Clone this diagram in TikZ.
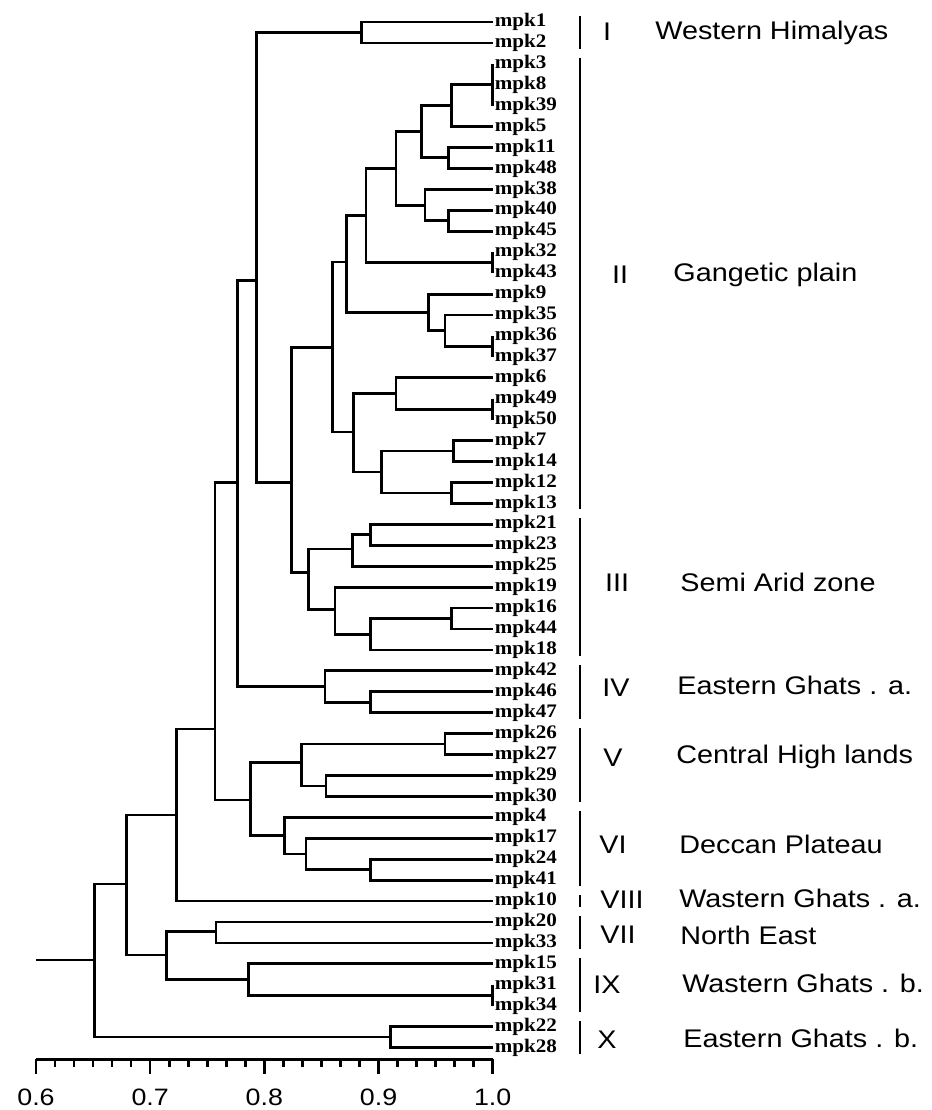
\documentclass[tikz,border=0pt]{standalone}
\usepackage{fontspec}
\usepackage{tikz}
\usetikzlibrary{calc}
\newfontfamily\leaffont[FakeStretch=1.1]{Liberation Serif}
\newfontfamily\zonefont[FakeStretch=1.13]{Liberation Sans}
\tikzstyle{br}=[line width=1.6pt]
\tikzstyle{grp}=[line width=1.4pt]
\tikzstyle{leaf}=[anchor=west, inner sep=1pt, font=\leaffont\bfseries\fontsize{10.9}{11}\selectfont]
\tikzstyle{rom}=[inner sep=0pt, font=\zonefont\fontsize{14.5}{15}\selectfont]
\tikzstyle{zone}=[rom, anchor=west]
\tikzstyle{axis}=[line width=1.7pt]
\tikzstyle{tick}=[line width=1.5pt]
\tikzstyle{ticklabel}=[inner sep=0pt, font=\zonefont\fontsize{13.5}{14}\selectfont]

\begin{document}
\begin{tikzpicture}[x=0.02cm, y=-0.02cm]
    \useasboundingbox (0,0) rectangle (932,1110);

    \foreach \n [count=\i from 0] in {1,2,3,8,39,5,11,48,38,40,45,32,43,9,35,36,37,6,49,50,7,14,12,13,21,23,25,19,16,44,18,42,46,47,26,27,29,30,4,17,24,41,10,20,33,15,31,34,22,28}{
        \node[leaf] (mpk\n) at (492.7, 22+20.93*\i) {mpk\n};
    }

    % joins
    \coordinate (n12) at (361.7, 32.5);
    \coordinate (a2) at (451.7, 105.8);
    \coordinate (a3) at (448.3, 157.3);
    \coordinate (a4) at (421.7, 131.7);
    \coordinate (a5) at (448.3, 220.8);
    \coordinate (a6) at (425, 205.1);
    \coordinate (a7) at (396, 168.4);
    \coordinate (a9) at (366, 215.5);
    \coordinate (a11) at (445, 330.7);
    \coordinate (a12) at (428.3, 312.4);
    \coordinate (a13) at (346.3, 262);
    \coordinate (a15) at (396, 393.5);
    \coordinate (a16) at (453.3, 451);
    \coordinate (a17) at (451.7, 493);
    \coordinate (a18) at (381.7, 472);
    \coordinate (a19) at (353.3, 432);
    \coordinate (a20) at (332.7, 347.3);
    \coordinate (b1) at (370.7, 534.8);
    \coordinate (b2) at (352.7, 549);
    \coordinate (b3) at (451.7, 618.5);
    \coordinate (b4) at (370.7, 634.2);
    \coordinate (b5) at (335, 609.5);
    \coordinate (b6) at (308.3, 572.7);
    \coordinate (c1) at (291.7, 482.7);
    \coordinate (c2) at (256.7, 280.7);
    \coordinate (d1) at (370.7, 702.2);
    \coordinate (d2) at (325, 686.5);
    \coordinate (c3) at (237.3, 482.7);
    \coordinate (f1) at (445, 744);
    \coordinate (f2) at (326, 786);
    \coordinate (f3) at (301.7, 762.7);
    \coordinate (g1) at (370.7, 869.7);
    \coordinate (g2) at (306, 854);
    \coordinate (g3) at (284.3, 835.7);
    \coordinate (h1) at (250.7, 800);
    \coordinate (c4) at (215, 729);
    \coordinate (c5) at (176.7, 815);
    \coordinate (k1) at (216, 931.5);
    \coordinate (k3) at (248.3, 979.5);
    \coordinate (k4) at (166.7, 955);
    \coordinate (c6) at (126.7, 884);
    \coordinate (m1) at (390.7, 1037);
    \coordinate (root) at (94.3, 960);
    \coordinate (stem) at (36, 960);

    \coordinate (a1) at (mpk8.west);
    \coordinate (a8) at ($(mpk32.west)!.5!(mpk43.west)$);
    \coordinate (a10) at ($(mpk36.west)!.5!(mpk37.west)$);
    \coordinate (a14) at ($(mpk49.west)!.5!(mpk50.west)$);
    \coordinate (k2) at ($(mpk31.west)!.5!(mpk34.west)$);
    \foreach \s/\e in {3/39, 32/43, 36/37, 49/50, 31/34}{
        \draw[br] (mpk\s.west) -- (mpk\e.west);
    }

    \draw[br] (mpk1.west) -| (n12) |- (mpk2.west);
    \draw[br] (a1) -| (a2) |- (mpk5.west);
    \draw[br] (mpk11.west) -| (a3) |- (mpk48.west);
    \draw[br] (a2) -| (a4) |- (a3);
    \draw[br] (mpk40.west) -| (a5) |- (mpk45.west);
    \draw[br] (mpk38.west) -| (a6) |- (a5);
    \draw[br] (a4) -| (a7) |- (a6);
    \draw[br] (a7) -| (a9) |- (a8);
    \draw[br] (mpk35.west) -| (a11) |- (a10);
    \draw[br] (mpk9.west) -| (a12) |- (a11);
    \draw[br] (a9) -| (a13) |- (a12);
    \draw[br] (mpk6.west) -| (a15) |- (a14);
    \draw[br] (mpk7.west) -| (a16) |- (mpk14.west);
    \draw[br] (mpk12.west) -| (a17) |- (mpk13.west);
    \draw[br] (a16) -| (a18) |- (a17);
    \draw[br] (a15) -| (a19) |- (a18);
    \draw[br] (a13) -| (a20) |- (a19);

    \draw[br] (mpk21.west) -| (b1) |- (mpk23.west);
    \draw[br] (b1) -| (b2) |- (mpk25.west);
    \draw[br] (mpk16.west) -| (b3) |- (mpk44.west);
    \draw[br] (b3) -| (b4) |- (mpk18.west);
    \draw[br] (mpk19.west) -| (b5) |- (b4);
    \draw[br] (b2) -| (b6) |- (b5);
    \draw[br] (a20) -| (c1) |- (b6);
    \draw[br] (n12) -| (c2) |- (c1);

    \draw[br] (mpk46.west) -| (d1) |- (mpk47.west);
    \draw[br] (mpk42.west) -| (d2) |- (d1);
    \draw[br] (c2) -| (c3) |- (d2);

    \draw[br] (mpk26.west) -| (f1) |- (mpk27.west);
    \draw[br] (mpk29.west) -| (f2) |- (mpk30.west);
    \draw[br] (f1) -| (f3) |- (f2);
    \draw[br] (mpk24.west) -| (g1) |- (mpk41.west);
    \draw[br] (mpk17.west) -| (g2) |- (g1);
    \draw[br] (mpk4.west) -| (g3) |- (g2);
    \draw[br] (f3) -| (h1) |- (g3);
    \draw[br] (c3) -| (c4) |- (h1);
    \draw[br] (c4) -| (c5) |- (mpk10.west);

    \draw[br] (mpk20.west) -| (k1) |- (mpk33.west);
    \draw[br] (mpk15.west) -| (k3) |- (k2);
    \draw[br] (k1) -| (k4) |- (k3);
    \draw[br] (c5) -| (c6) |- (k4);

    \draw[br] (mpk22.west) -| (m1) |- (mpk28.west);
    \draw[br] (c6) -| (root) |- (m1);
    \draw[br] (stem) -- (root);

    % groups
    \coordinate (gx) at (580,0);
    \foreach \s/\e in {1/2, 3/13, 21/18, 42/47, 26/30, 4/41, 10/10, 20/33, 15/34, 22/28}{
        \draw[grp] ($(mpk\s.west -| gx)+(0,-6)$) -- ($(mpk\e.west -| gx)+(0,6)$);
    }

    \node[rom] (rI) at (607, 32) {I};
    \node[rom] (rII) at (620, 275) {II};
    \node[rom] (rIII) at (617, 583) {III};
    \node[rom] (rIV) at (616, 688) {IV};
    \node[rom] (rV) at (613, 758) {V};
    \node[rom] (rVI) at (613, 845) {VI};
    \node[rom] (rVIII) at (622, 900) {VIII};
    \node[rom] (rVII) at (618, 935) {VII};
    \node[rom] (rIX) at (607, 985) {IX};
    \node[rom] (rX) at (607, 1040) {X};

    \node[zone] (zI) at (655, 33) {Western Himalyas};
    \node[zone] (zII) at (673, 275) {Gangetic plain};
    \node[zone] (zIII) at (680, 582) {Semi Arid zone};
    \node[zone] (zIV) at (677, 685) {Eastern Ghats . a.};
    \node[zone] (zV) at (676, 757) {Central High lands};
    \node[zone] (zVI) at (679, 844) {Deccan Plateau};
    \node[zone] (zVIII) at (679, 898) {Wastern Ghats . a.};
    \node[zone] (zVII) at (680, 935) {North East};
    \node[zone] (zIX) at (682, 983) {Wastern Ghats . b.};
    \node[zone] (zX) at (683, 1038) {Eastern Ghats . b.};

    % axis
    \coordinate (ax0) at (36, 1059);
    \coordinate (ax1) at (492.7, 1059);
    \draw[axis] (ax0) -- (ax1);
    \foreach \k in {0,...,24}{
        \pgfmathtruncatemacro\r{mod(\k,6)}
        \ifnum\r=0
            \draw[tick] ($(ax0)!\k/24!(ax1)$) -- ++(0,15);
        \else
            \draw[tick] ($(ax0)!\k/24!(ax1)$) -- ++(0,8);
        \fi
    }
    \foreach \v [count=\k from 0] in {0.6,0.7,0.8,0.9,1.0}{
        \node[ticklabel] (lab\k) at ($(ax0)!\k/4!(ax1)+(0,38)$) {\v};
    }

\end{tikzpicture}
\end{document}
